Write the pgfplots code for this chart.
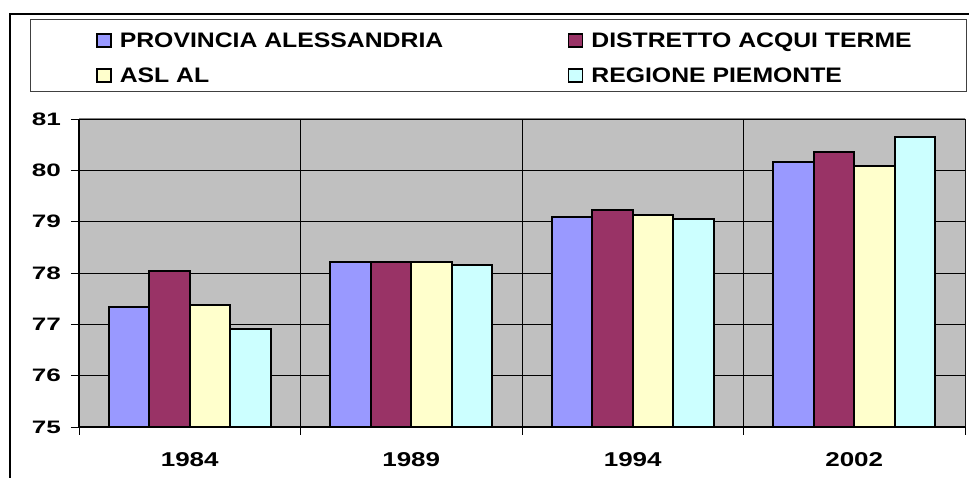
\documentclass[border=0pt]{standalone}
\usepackage{pgfplots}
\pgfplotsset{compat=1.18}
\usepackage{graphicx}
\usepackage{fontspec}
\setmainfont{Liberation Sans}
\definecolor{cA}{HTML}{9999FF}
\definecolor{cB}{HTML}{993366}
\definecolor{cC}{HTML}{FFFFCC}
\definecolor{cD}{HTML}{CCFFFF}
\definecolor{bg}{HTML}{C0C0C0}
\newcommand{\tlab}[1]{\scalebox{1.45}[1]{#1}}
\newcommand{\clab}[1]{\scalebox{1.3}[1]{#1}}
\newcommand{\llab}[1]{\makebox[440pt][l]{\scalebox{1.18}[1]{#1}}}
\newcommand{\mysq}[1]{\draw[#1,draw=black,line width=1.6pt] (0pt,-6.5pt) rectangle (14pt,6.5pt);}
\pgfplotsset{sqleg/.style={legend image code/.code={\mysq{##1}}}}
\begin{document}
\begin{tikzpicture}[x=1pt,y=1pt]
\useasboundingbox (0,0) rectangle (969,478);
\fill[white] (0,0) rectangle (969,478);
\draw[line width=2pt] (10,-5) -- (10,464) -- (975,464);
\draw[line width=1pt, draw=black!75] (30.7,386) rectangle (966.7,458);
\begin{axis}[at={(79pt,51pt)}, anchor=south west, scale only axis,
  width=886pt, height=308pt,
  ybar=0pt, bar width=40.5pt,
  xmin=-0.5, xmax=3.5, ymin=75, ymax=81,
  axis background/.style={fill=bg},
  axis x line*=bottom, axis y line*=left, axis line style={-, black, line width=1.2pt},
  tick align=outside, major tick length=8pt,
  tick style={black, line width=0.8pt},
  xtick={-0.5,0.5,1.5,2.5,3.5}, xticklabels={},
  xmajorgrids, ymajorgrids, major grid style={black, line width=0.8pt},
  extra x ticks={0,1,2,3},
  extra x tick labels={\clab{1984},\clab{1989},\clab{1994},\clab{2002}},
  extra x tick style={major tick length=0pt, grid=none,
    xticklabel style={font=\fontsize{20}{20}\selectfont\bfseries, inner sep=0pt, anchor=north, yshift=-25pt}},
  ytick={75,76,77,78,79,80,81},
  yticklabels={\tlab{75},\tlab{76},\tlab{77},\tlab{78},\tlab{79},\tlab{80},\tlab{81}},
  yticklabel style={font=\fontsize{18}{18}\selectfont\bfseries, inner sep=0pt, anchor=east, xshift=-10pt},
  legend columns=2,
  legend style={at={(axis description cs:0.0192,1.282)}, anchor=north west,
    draw=none, fill=none, inner sep=0pt, column sep=8pt, row sep=19pt,
    font=\fontsize{21}{21}\selectfont\bfseries, nodes={inner sep=0pt}},
  legend cell align=left,
]
\draw[gray, line width=1pt] (rel axis cs:0,1) -- (rel axis cs:1,1) -- (rel axis cs:1,0);
\addplot[fill=cA, draw=black, line width=2pt, sqleg] coordinates {(0,77.34) (1,78.22) (2,79.09) (3,80.16)};
\addplot[fill=cB, draw=black, line width=2pt, sqleg] coordinates {(0,78.03) (1,78.22) (2,79.22) (3,80.35)};
\addplot[fill=cC, draw=black, line width=2pt, sqleg] coordinates {(0,77.38) (1,78.22) (2,79.13) (3,80.09)};
\addplot[fill=cD, draw=black, line width=2pt, sqleg] coordinates {(0,76.90) (1,78.16) (2,79.06) (3,80.64)};
\legend{\llab{PROVINCIA ALESSANDRIA},\llab{DISTRETTO ACQUI TERME},\llab{ASL AL},\llab{REGIONE PIEMONTE}}
\end{axis}
\end{tikzpicture}
\end{document}
